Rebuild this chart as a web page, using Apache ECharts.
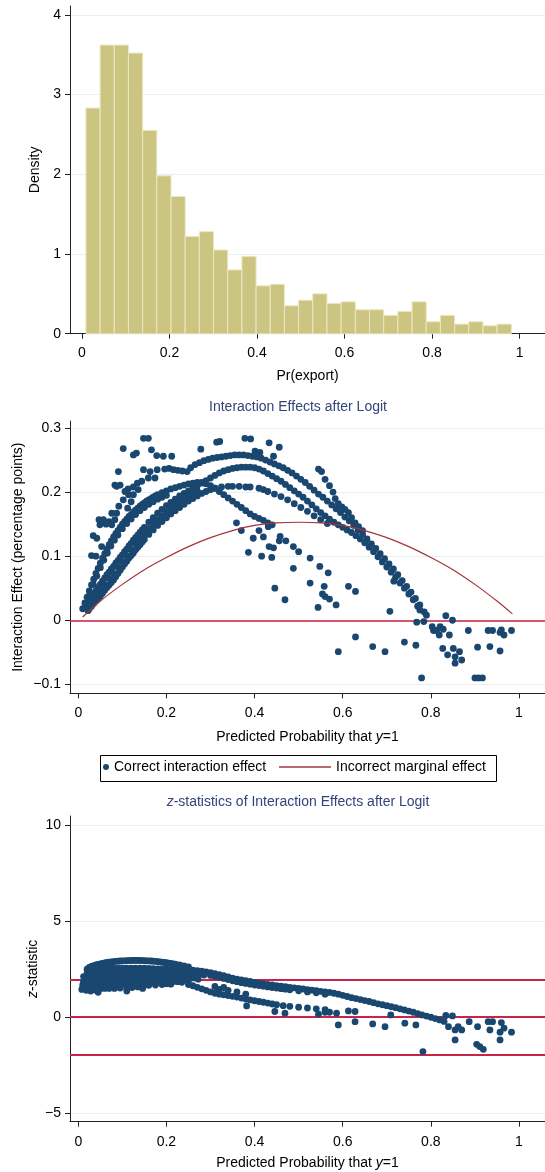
<!DOCTYPE html>
<html>
<head>
<meta charset="utf-8">
<title>Interaction effects after logit</title>
<script src="https://cdn.jsdelivr.net/npm/echarts@6/dist/echarts.min.js"></script>
<style>
  html, body { margin: 0; padding: 0; background: #fff; }
  #main { width: 545px; height: 1172px; }
</style>
</head>
<body>
<div id="main"></div>
<script>
// ---- data ----

// histogram of Pr(export): 30 equal bins
var histBinStart = 0.009;
var histBinWidth = 0.0324;
var histDensity = [2.83, 3.62, 3.62, 3.52, 2.55, 1.98, 1.72, 1.22, 1.28, 1.05,
                   0.80, 0.97, 0.60, 0.62, 0.35, 0.42, 0.50, 0.38, 0.40, 0.30,
                   0.30, 0.23, 0.28, 0.40, 0.15, 0.23, 0.12, 0.15, 0.10, 0.12];
var histXTicks = [0, 0.2, 0.4, 0.6, 0.8, 1];
var histYTicks = [0, 1, 2, 3, 4];

// interaction effects (x = predicted probability, y = effect)
var ieBandOuter = [[0.010,0.018],[0.015,0.027],[0.020,0.036],[0.025,0.046],[0.030,0.055],[0.035,0.064],[0.040,0.073],[0.045,0.081],[0.050,0.089],[0.055,0.097],[0.060,0.104],[0.065,0.111],[0.070,0.118],[0.075,0.124],[0.080,0.130],[0.085,0.135],[0.090,0.140],[0.095,0.145],[0.100,0.150],[0.105,0.154],[0.110,0.158],[0.115,0.162],[0.120,0.165],[0.125,0.169],[0.130,0.172],[0.135,0.175],[0.140,0.178],[0.145,0.181],[0.150,0.183],[0.155,0.186],[0.160,0.188],[0.165,0.190],[0.170,0.192],[0.175,0.194],[0.180,0.196],[0.190,0.199],[0.200,0.202],[0.210,0.205],[0.220,0.207],[0.230,0.209],[0.240,0.211],[0.250,0.213],[0.260,0.214],[0.270,0.215],[0.280,0.215],[0.290,0.213],[0.300,0.210],[0.310,0.206],[0.320,0.201],[0.330,0.196],[0.340,0.191],[0.350,0.186],[0.360,0.181],[0.370,0.176],[0.380,0.171],[0.390,0.166],[0.400,0.162],[0.410,0.159],[0.420,0.156],[0.430,0.152],[0.440,0.149]];
var ieBandOuterInner = [[0.018,0.026],[0.026,0.041],[0.034,0.056],[0.042,0.069],[0.050,0.082],[0.058,0.094],[0.066,0.105],[0.074,0.116],[0.082,0.125],[0.090,0.133],[0.100,0.143],[0.110,0.151],[0.120,0.158],[0.130,0.165],[0.140,0.171],[0.150,0.176],[0.160,0.181],[0.170,0.185],[0.180,0.189],[0.190,0.192],[0.200,0.195]];
var ieBandMidUpper = [[0.020,0.024],[0.025,0.030],[0.030,0.036],[0.035,0.041],[0.040,0.046],[0.045,0.051],[0.050,0.056],[0.055,0.061],[0.060,0.066],[0.065,0.071],[0.070,0.075],[0.075,0.080],[0.080,0.084],[0.085,0.089],[0.090,0.093],[0.095,0.098],[0.100,0.102],[0.105,0.107],[0.110,0.111],[0.115,0.116],[0.120,0.120],[0.125,0.125],[0.130,0.129],[0.135,0.133],[0.140,0.137],[0.145,0.141],[0.150,0.145],[0.160,0.153],[0.170,0.160],[0.180,0.167],[0.190,0.173],[0.200,0.179],[0.210,0.184],[0.220,0.189],[0.230,0.194],[0.240,0.198],[0.250,0.202],[0.260,0.206],[0.270,0.210],[0.280,0.214],[0.290,0.218],[0.300,0.222],[0.310,0.226],[0.320,0.230],[0.330,0.233],[0.340,0.235],[0.350,0.237],[0.360,0.238],[0.370,0.239],[0.380,0.239],[0.390,0.239],[0.400,0.238]];
var ieBandMidCore = [[0.030,0.029],[0.040,0.038],[0.050,0.047],[0.060,0.056],[0.070,0.065],[0.080,0.073],[0.090,0.083],[0.100,0.092],[0.110,0.101],[0.120,0.110],[0.130,0.119],[0.140,0.127],[0.150,0.135],[0.160,0.143],[0.170,0.150],[0.180,0.157],[0.190,0.163],[0.200,0.169],[0.210,0.175],[0.220,0.180],[0.230,0.185],[0.240,0.190],[0.250,0.194],[0.260,0.198],[0.270,0.202]];
var ieBandMidLower = [[0.022,0.015],[0.025,0.018],[0.030,0.022],[0.035,0.026],[0.040,0.030],[0.045,0.034],[0.050,0.038],[0.055,0.042],[0.060,0.047],[0.065,0.051],[0.070,0.055],[0.075,0.059],[0.080,0.063],[0.085,0.068],[0.090,0.073],[0.095,0.078],[0.100,0.083],[0.105,0.088],[0.110,0.092],[0.115,0.097],[0.120,0.101],[0.125,0.105],[0.130,0.110],[0.135,0.114],[0.140,0.118],[0.145,0.122],[0.150,0.126],[0.160,0.134],[0.170,0.141],[0.180,0.148],[0.190,0.154],[0.200,0.160],[0.210,0.166],[0.220,0.171],[0.230,0.176],[0.240,0.181],[0.250,0.186],[0.260,0.190],[0.270,0.194],[0.280,0.198],[0.290,0.201],[0.300,0.204],[0.310,0.206],[0.325,0.208],[0.340,0.209],[0.350,0.209],[0.365,0.209],[0.380,0.208],[0.390,0.208],[0.410,0.206],[0.420,0.204]];
var ieArcTop = [[0.255,0.238],[0.265,0.243],[0.275,0.246],[0.285,0.249],[0.295,0.251],[0.305,0.253],[0.315,0.254],[0.325,0.255],[0.335,0.256],[0.345,0.257],[0.355,0.258],[0.365,0.258],[0.375,0.258],[0.385,0.257],[0.395,0.256],[0.405,0.255],[0.415,0.253],[0.425,0.250],[0.435,0.247],[0.445,0.244],[0.455,0.241],[0.465,0.238],[0.475,0.234],[0.485,0.230],[0.495,0.225],[0.505,0.220],[0.515,0.215],[0.525,0.209],[0.535,0.203],[0.545,0.197],[0.555,0.192],[0.565,0.186],[0.575,0.180],[0.585,0.174],[0.595,0.168],[0.605,0.161],[0.615,0.155],[0.625,0.148],[0.635,0.141],[0.645,0.134],[0.655,0.127],[0.665,0.119],[0.675,0.112],[0.685,0.104],[0.695,0.096],[0.705,0.088],[0.715,0.080],[0.725,0.071],[0.735,0.062],[0.745,0.053],[0.755,0.044],[0.765,0.034],[0.775,0.024],[0.785,0.013]];
var ieArcMidDown = [[0.410,0.236],[0.420,0.233],[0.430,0.229],[0.440,0.225],[0.450,0.221],[0.460,0.217],[0.470,0.212],[0.480,0.207],[0.490,0.202],[0.500,0.197],[0.510,0.192],[0.520,0.186],[0.530,0.180],[0.540,0.174],[0.550,0.168],[0.560,0.163],[0.570,0.158],[0.580,0.153],[0.590,0.149],[0.600,0.145],[0.610,0.141],[0.620,0.137],[0.630,0.132],[0.640,0.127],[0.650,0.121],[0.660,0.114],[0.670,0.107],[0.680,0.099],[0.690,0.091],[0.700,0.083],[0.710,0.075],[0.720,0.067],[0.730,0.058],[0.740,0.050],[0.750,0.041],[0.760,0.032],[0.770,0.022],[0.775,0.016]];
var ieArcLowDown = [[0.430,0.201],[0.445,0.197],[0.460,0.193],[0.475,0.188],[0.490,0.182],[0.505,0.176],[0.520,0.170],[0.535,0.163],[0.550,0.157],[0.565,0.151]];
var ieArcRight = [[0.545,0.236],[0.552,0.232],[0.560,0.220],[0.570,0.210],[0.578,0.200],[0.583,0.190],[0.590,0.182],[0.598,0.177],[0.605,0.173],[0.613,0.168],[0.620,0.160],[0.628,0.152],[0.636,0.146],[0.645,0.140]];
var ieUpperScatter = [[0.030,0.101],[0.034,0.132],[0.042,0.128],[0.040,0.100],[0.047,0.157],[0.049,0.149],[0.053,0.115],[0.057,0.157],[0.060,0.152],[0.063,0.150],[0.070,0.154],[0.076,0.149],[0.076,0.167],[0.083,0.157],[0.087,0.167],[0.083,0.211],[0.087,0.209],[0.091,0.232],[0.095,0.211],[0.102,0.188],[0.102,0.268],[0.106,0.201],[0.113,0.205],[0.114,0.196],[0.125,0.196],[0.125,0.208],[0.125,0.258],[0.132,0.261],[0.134,0.214],[0.136,0.204],[0.144,0.217],[0.148,0.235],[0.159,0.222],[0.163,0.232],[0.148,0.284],[0.159,0.284],[0.166,0.266],[0.174,0.222],[0.179,0.235],[0.178,0.257],[0.193,0.256],[0.212,0.256],[0.196,0.236],[0.206,0.237],[0.216,0.235],[0.226,0.234],[0.236,0.233],[0.247,0.232],[0.278,0.267],[0.314,0.278],[0.321,0.279],[0.378,0.284],[0.391,0.283],[0.401,0.264],[0.412,0.262],[0.433,0.277],[0.456,0.270],[0.443,0.256],[0.112,0.175],[0.120,0.185],[0.092,0.178]];
var ieLowerScatter = [[0.359,0.152],[0.370,0.140],[0.386,0.106],[0.397,0.128],[0.410,0.140],[0.416,0.100],[0.420,0.130],[0.431,0.146],[0.433,0.115],[0.439,0.098],[0.443,0.113],[0.456,0.124],[0.458,0.131],[0.471,0.124],[0.488,0.115],[0.500,0.107],[0.488,0.081],[0.526,0.097],[0.548,0.084],[0.567,0.074],[0.446,0.050],[0.469,0.032],[0.526,0.058],[0.544,0.020],[0.554,0.041],[0.560,0.037],[0.558,0.053],[0.570,0.033],[0.585,0.024],[0.590,-0.049],[0.613,0.053],[0.629,0.045],[0.629,-0.026],[0.668,-0.041],[0.696,-0.049],[0.707,0.014],[0.716,0.061],[0.740,-0.034],[0.766,-0.039],[0.779,-0.090],[0.768,-0.003],[0.784,-0.002],[0.790,0.008],[0.834,0.007],[0.849,0.000],[0.803,-0.010],[0.806,-0.016],[0.813,-0.016],[0.819,-0.023],[0.821,-0.010],[0.828,-0.014],[0.827,-0.044],[0.838,-0.054],[0.842,-0.023],[0.851,-0.044],[0.855,-0.057],[0.855,-0.067],[0.865,-0.049],[0.870,-0.062],[0.885,-0.016],[0.900,-0.090],[0.908,-0.090],[0.917,-0.090],[0.906,-0.042],[0.930,-0.016],[0.940,-0.016],[0.934,-0.041],[0.957,-0.048],[0.957,-0.019],[0.960,-0.015],[0.966,-0.023],[0.983,-0.016]];
// incorrect marginal effect curve
var meCurve = [[0.010,0.005],[0.050,0.030],[0.100,0.056],[0.150,0.079],[0.200,0.098],[0.250,0.115],[0.300,0.129],[0.350,0.140],[0.400,0.148],[0.450,0.152],[0.500,0.153],[0.550,0.152],[0.600,0.148],[0.650,0.140],[0.700,0.129],[0.750,0.115],[0.800,0.098],[0.850,0.079],[0.900,0.056],[0.950,0.030],[0.985,0.010]];
var ieYTicks = [-0.1, 0, 0.1, 0.2, 0.3];
var probXTicks = [0, 0.2, 0.4, 0.6, 0.8, 1];

// z-statistics
var zsBlobRow1 = [[0.020,2.50],[0.025,2.60],[0.030,2.65],[0.035,2.69],[0.040,2.72],[0.045,2.75],[0.050,2.78],[0.055,2.80],[0.060,2.83],[0.065,2.85],[0.070,2.87],[0.075,2.88],[0.080,2.90],[0.085,2.91],[0.090,2.92],[0.095,2.93],[0.100,2.94],[0.105,2.94],[0.110,2.95],[0.115,2.95],[0.120,2.96],[0.125,2.96],[0.130,2.96],[0.135,2.96],[0.140,2.96],[0.145,2.95],[0.150,2.95],[0.155,2.94],[0.160,2.94],[0.165,2.93],[0.170,2.92],[0.175,2.91],[0.180,2.90],[0.185,2.88],[0.190,2.87],[0.195,2.85],[0.200,2.84],[0.205,2.82],[0.210,2.80],[0.215,2.78],[0.220,2.76],[0.230,2.72],[0.240,2.67],[0.250,2.62]];
var zsBlobRow2 = [[0.012,2.12],[0.020,2.30],[0.028,2.42],[0.036,2.50],[0.044,2.53],[0.052,2.54],[0.060,2.54],[0.070,2.55],[0.080,2.55],[0.090,2.56],[0.100,2.56],[0.110,2.56],[0.120,2.56],[0.130,2.56],[0.140,2.55],[0.150,2.55],[0.160,2.54],[0.170,2.53],[0.180,2.52],[0.190,2.51],[0.200,2.50],[0.210,2.49],[0.220,2.48],[0.230,2.48],[0.240,2.47],[0.250,2.46],[0.260,2.45],[0.270,2.43]];
var zsBlobRow3 = [[0.015,2.05],[0.025,2.25],[0.035,2.32],[0.045,2.36],[0.055,2.38],[0.065,2.39],[0.075,2.40],[0.085,2.40],[0.095,2.41],[0.105,2.41],[0.115,2.42],[0.125,2.42],[0.135,2.42],[0.145,2.41],[0.155,2.41],[0.165,2.40],[0.175,2.40],[0.185,2.39],[0.195,2.39],[0.205,2.38],[0.215,2.38],[0.225,2.37],[0.235,2.36],[0.245,2.35],[0.255,2.34],[0.265,2.30],[0.275,2.25],[0.285,2.20]];
var zsBlobRow4 = [[0.012,1.85],[0.022,1.98],[0.032,2.05],[0.042,2.10],[0.052,2.13],[0.062,2.15],[0.072,2.17],[0.082,2.18],[0.092,2.19],[0.102,2.20],[0.112,2.21],[0.122,2.22],[0.132,2.22],[0.142,2.23],[0.152,2.23],[0.162,2.23],[0.172,2.23],[0.182,2.22],[0.192,2.22],[0.202,2.21],[0.212,2.20],[0.222,2.18],[0.232,2.16],[0.242,2.14],[0.252,2.10],[0.262,2.05],[0.272,1.98]];
var zsBlobRow5 = [[0.010,1.68],[0.020,1.76],[0.030,1.82],[0.040,1.86],[0.050,1.88],[0.060,1.90],[0.070,1.91],[0.080,1.93],[0.090,1.94],[0.100,1.95],[0.110,1.96],[0.120,1.97],[0.130,1.98],[0.140,1.99],[0.150,2.00],[0.160,2.01],[0.170,2.02],[0.180,2.02],[0.190,2.02],[0.200,2.01],[0.210,2.00],[0.220,1.99],[0.230,1.97],[0.240,1.94],[0.250,1.90]];
var zsBlobRow6 = [[0.015,1.50],[0.025,1.55],[0.035,1.60],[0.045,1.64],[0.055,1.66],[0.065,1.67],[0.075,1.68],[0.085,1.70],[0.095,1.72],[0.105,1.73],[0.115,1.74],[0.125,1.75],[0.135,1.76],[0.145,1.78],[0.155,1.80],[0.165,1.81],[0.175,1.83],[0.185,1.84],[0.195,1.85],[0.205,1.86],[0.215,1.86],[0.225,1.85],[0.235,1.82]];
var zsBlobRow7 = [[0.008,1.45],[0.018,1.40],[0.028,1.36],[0.038,1.42],[0.050,1.48],[0.060,1.50],[0.070,1.50],[0.082,1.50],[0.095,1.52],[0.110,1.50],[0.122,1.55],[0.135,1.58],[0.148,1.62],[0.160,1.66],[0.175,1.68],[0.190,1.70],[0.200,1.74],[0.110,1.36],[0.146,1.50],[0.210,1.72],[0.045,1.30],[0.030,1.55],[0.020,1.62]];
var zsBandUpper = [[0.28,2.40],[0.29,2.36],[0.30,2.32],[0.31,2.27],[0.32,2.22],[0.33,2.16],[0.34,2.10],[0.35,2.04],[0.36,1.98],[0.37,1.94],[0.38,1.90],[0.39,1.86],[0.40,1.82],[0.41,1.78],[0.42,1.74],[0.43,1.71],[0.44,1.68],[0.45,1.65],[0.46,1.62],[0.47,1.59],[0.48,1.56],[0.49,1.53],[0.50,1.50],[0.51,1.47],[0.52,1.44],[0.53,1.41],[0.54,1.38],[0.55,1.35],[0.56,1.32],[0.57,1.29],[0.58,1.25],[0.59,1.20],[0.60,1.14],[0.61,1.08],[0.62,1.02],[0.63,0.97],[0.64,0.92],[0.65,0.87],[0.66,0.82],[0.67,0.76],[0.68,0.70],[0.69,0.65],[0.70,0.60],[0.71,0.55],[0.72,0.50],[0.73,0.44],[0.74,0.38],[0.75,0.32],[0.76,0.26],[0.77,0.19],[0.78,0.12],[0.79,0.06],[0.80,0.00],[0.81,-0.07],[0.82,-0.14],[0.83,-0.22]];
var zsBandUpper2 = [[0.30,2.18],[0.31,2.13],[0.32,2.08],[0.33,2.02],[0.34,1.96],[0.35,1.90],[0.36,1.85],[0.37,1.80],[0.38,1.76],[0.39,1.72],[0.40,1.68],[0.41,1.65],[0.42,1.62],[0.43,1.58],[0.44,1.55],[0.45,1.52],[0.46,1.49],[0.47,1.46],[0.48,1.43],[0.50,1.38],[0.52,1.32],[0.54,1.27],[0.56,1.20]];
var zsBandLower = [[0.25,1.70],[0.26,1.64],[0.27,1.56],[0.28,1.48],[0.29,1.40],[0.30,1.32],[0.31,1.25],[0.32,1.20],[0.33,1.17],[0.34,1.13],[0.35,1.09],[0.36,1.05],[0.37,1.00],[0.38,0.95],[0.39,0.90],[0.40,0.86],[0.41,0.82],[0.42,0.78],[0.43,0.74],[0.44,0.69],[0.45,0.65],[0.465,0.60],[0.48,0.57],[0.50,0.52],[0.52,0.48],[0.54,0.44],[0.56,0.39]];
var zsScatter = [[0.32,1.45],[0.34,1.40],[0.36,1.32],[0.38,1.20],[0.31,1.60],[0.33,1.55],[0.446,0.30],[0.469,0.21],[0.382,0.59],[0.545,0.16],[0.560,0.26],[0.570,0.26],[0.586,0.21],[0.613,0.33],[0.628,0.30],[0.590,-0.40],[0.628,-0.23],[0.668,-0.35],[0.696,-0.49],[0.709,0.12],[0.741,-0.31],[0.766,-0.40],[0.782,-1.79],[0.834,0.09],[0.849,0.07],[0.840,-0.49],[0.855,-1.18],[0.855,-0.66],[0.862,-0.49],[0.870,-0.66],[0.887,-0.23],[0.904,-1.41],[0.911,-1.53],[0.919,-1.67],[0.906,-0.49],[0.930,-0.23],[0.940,-0.23],[0.934,-0.66],[0.957,-0.78],[0.957,-1.18],[0.960,-0.28],[0.966,-0.57],[0.983,-0.78]];
var zsYTicks = [-5, 0, 5, 10];
var zsCritical = [1.96, 0, -1.96];

// ---- chart ----
var FONT = 'Liberation Sans, Arial, Helvetica, sans-serif';
var NAVY = '#1a476f';
var GRIDLINE = '#e8f0f2';

var myChart = echarts.init(document.getElementById('main'));

function tickText(v) {
    return String(Math.round(v * 100) / 100).replace('-', '\u2212');
}

function xAxisOf(grid, min, max, ticks, name, gap, margin) {
    return {
        type: 'value', gridIndex: grid, min: min, max: max,
        name: name, nameLocation: 'middle', nameGap: gap, nameMoveOverlap: false,
        nameTextStyle: {
            fontSize: 14, color: '#000', fontFamily: FONT,
            rich: { i: { fontStyle: 'italic', fontSize: 14, color: '#000', fontFamily: FONT } }
        },
        axisLine: { show: true, onZero: false, lineStyle: { color: '#222', width: 1 } },
        axisTick: { show: true, length: 5, customValues: ticks, lineStyle: { color: '#222' } },
        axisLabel: { customValues: ticks, margin: margin, fontSize: 14, color: '#000', fontFamily: FONT, formatter: tickText },
        splitLine: { show: false }
    };
}

function yAxisOf(grid, min, max, ticks, name, gap) {
    return {
        type: 'value', gridIndex: grid, min: min, max: max,
        name: name, nameLocation: 'middle', nameGap: gap, nameRotate: 90, nameMoveOverlap: false,
        nameTextStyle: {
            fontSize: 14, color: '#000', fontFamily: FONT,
            rich: { i: { fontStyle: 'italic', fontSize: 14, color: '#000', fontFamily: FONT } }
        },
        axisLine: { show: true, onZero: false, lineStyle: { color: '#222', width: 1 } },
        axisTick: { show: true, length: 5, customValues: ticks, lineStyle: { color: '#222' } },
        axisLabel: { customValues: ticks, margin: 9, fontSize: 14, color: '#000', fontFamily: FONT, formatter: tickText },
        splitLine: { show: true, lineStyle: { color: GRIDLINE, width: 1 } }
    };
}

var histData = histDensity.map(function (d, i) {
    return [histBinStart + i * histBinWidth, histBinStart + (i + 1) * histBinWidth, d];
});

var ieData = [].concat(ieBandOuter, ieBandOuterInner, ieBandMidUpper, ieBandMidCore, ieBandMidLower,
    ieArcTop, ieArcMidDown, ieArcLowDown, ieArcRight, ieUpperScatter, ieLowerScatter);
var zsData = [].concat(zsBlobRow1, zsBlobRow2, zsBlobRow3, zsBlobRow4, zsBlobRow5, zsBlobRow6, zsBlobRow7,
    zsBandUpper, zsBandUpper2, zsBandLower, zsScatter);

var option = {
    animation: false,
    backgroundColor: '#fff',
    textStyle: { fontFamily: FONT },
    grid: [
        { left: 70, right: 0, top: 6, height: 327.7, outerBoundsMode: 'none' },
        { left: 70, right: 0, top: 421, height: 272.3, outerBoundsMode: 'none' },
        { left: 70, right: 0, top: 816, height: 305.7, outerBoundsMode: 'none' }
    ],
    xAxis: [
        xAxisOf(0, -0.0274, 1.058, histXTicks, 'Pr(export)', 35, 12),
        xAxisOf(1, -0.0188, 1.059, probXTicks, 'Predicted Probability that {i|y}=1', 37, 13),
        xAxisOf(2, -0.0188, 1.059, probXTicks, 'Predicted Probability that {i|y}=1', 34, 13)
    ],
    yAxis: [
        yAxisOf(0, 0, 4.11, histYTicks, 'Density', 28),
        yAxisOf(1, -0.114, 0.311, ieYTicks, 'Interaction Effect (percentage points)', 45),
        yAxisOf(2, -5.44, 10.48, zsYTicks, '{i|z}-statistic', 30)
    ],
    legend: [
        {
            data: ['Correct interaction effect'], left: 103, top: 760, padding: 0,
            itemWidth: 6, itemHeight: 6, icon: 'circle', selectedMode: false,
            textStyle: { fontSize: 14, color: '#000', fontFamily: FONT }
        },
        {
            data: ['Incorrect marginal effect'], left: 279, top: 760, padding: 0,
            itemWidth: 52, itemHeight: 1.3, icon: 'rect', selectedMode: false,
            itemStyle: { color: '#a3343c', borderWidth: 0 },
            textStyle: { fontSize: 14, color: '#000', fontFamily: FONT }
        }
    ],
    graphic: [
        { type: 'rect', shape: { x: 100.5, y: 755.5, width: 396, height: 26 },
          style: { fill: 'none', stroke: '#000', lineWidth: 1 }, silent: true },
        { type: 'text', x: 298, y: 407, silent: true,
          style: { text: 'Interaction Effects after Logit', fontSize: 14, fontFamily: FONT,
                   fill: '#34437a', align: 'center', verticalAlign: 'middle' } },
        { type: 'text', x: 298, y: 802, silent: true,
          style: { text: '{i|z}{n|-statistics of Interaction Effects after Logit}', fontSize: 14, fontFamily: FONT,
                   fill: '#34437a', align: 'center', verticalAlign: 'middle',
                   rich: {
                       i: { fontStyle: 'italic', fontSize: 14, fontFamily: FONT, fill: '#34437a' },
                       n: { fontSize: 14, fontFamily: FONT, fill: '#34437a' }
                   } } }
    ],
    series: [
        {
            name: 'Pr(export)',
            type: 'custom',
            xAxisIndex: 0, yAxisIndex: 0,
            data: histData,
            encode: { x: [0, 1], y: 2 },
            renderItem: function (params, api) {
                var p0 = api.coord([api.value(0), api.value(2)]);
                var p1 = api.coord([api.value(1), 0]);
                return {
                    type: 'rect',
                    shape: { x: p0[0], y: p0[1], width: p1[0] - p0[0], height: p1[1] - p0[1] },
                    style: { fill: '#ccc581', stroke: '#ebe7c3', lineWidth: 1 }
                };
            }
        },
        {
            name: 'Correct interaction effect',
            type: 'scatter',
            xAxisIndex: 1, yAxisIndex: 1,
            symbol: 'circle', symbolSize: 6.8,
            itemStyle: { color: NAVY, opacity: 1 },
            data: ieData,
            z: 3,
            markLine: {
                silent: true, symbol: ['none', 'none'], z: 1,
                label: { show: false },
                lineStyle: { color: '#cc1f44', width: 1.5, type: 'solid' },
                emphasis: { disabled: true },
                data: [{ yAxis: 0 }]
            }
        },
        {
            name: 'Incorrect marginal effect',
            type: 'line',
            xAxisIndex: 1, yAxisIndex: 1,
            symbol: 'none', smooth: 0.3,
            lineStyle: { color: '#a3343c', width: 1.2 },
            itemStyle: { color: '#a3343c' },
            data: meCurve,
            z: 4
        },
        {
            name: 'z-statistic',
            type: 'scatter',
            xAxisIndex: 2, yAxisIndex: 2,
            symbol: 'circle', symbolSize: 6.8,
            itemStyle: { color: NAVY, opacity: 1 },
            data: zsData,
            z: 3,
            markLine: {
                silent: true, symbol: ['none', 'none'], z: 1,
                label: { show: false },
                lineStyle: { color: '#c8234b', width: 2, type: 'solid' },
                emphasis: { disabled: true },
                data: zsCritical.map(function (v) { return { yAxis: v }; })
            }
        }
    ]
};

myChart.setOption(option);
</script>
</body>
</html>
